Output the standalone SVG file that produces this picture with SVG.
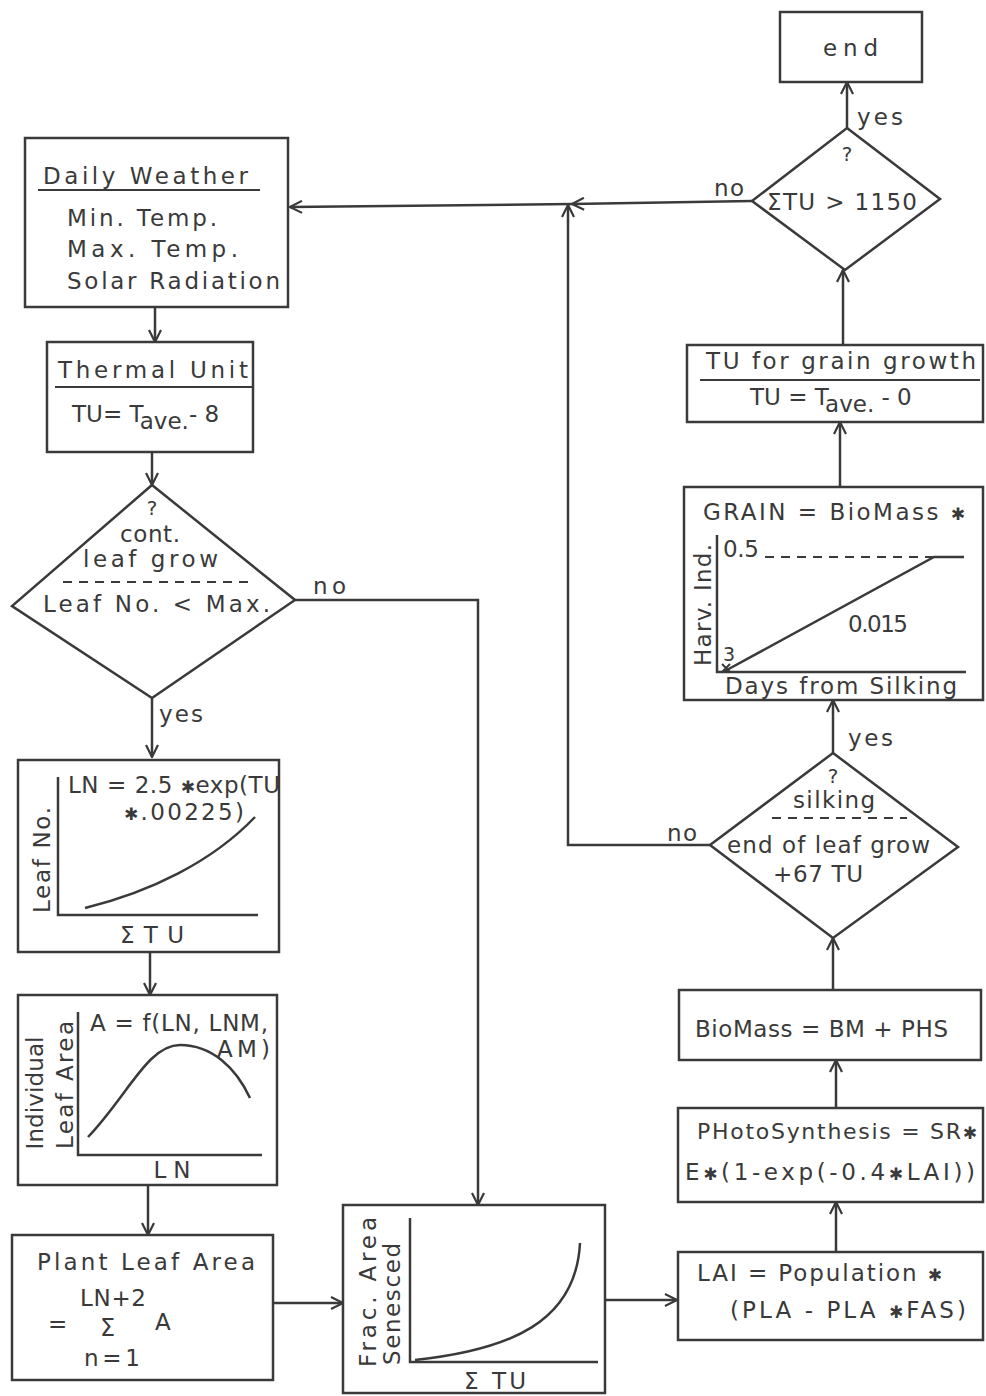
<svg xmlns="http://www.w3.org/2000/svg" width="986" height="1396" viewBox="0 0 986 1396">
<style>
  .box { fill: none; stroke: #3a3a3a; stroke-width: 2.5; }
  .ln { fill: none; stroke: #3a3a3a; stroke-width: 2.5; }
  .thin { fill: none; stroke: #3a3a3a; stroke-width: 2; }
  .dash { fill: none; stroke: #3a3a3a; stroke-width: 2; stroke-dasharray: 9 7; }
  .con { fill: none; stroke: #3a3a3a; stroke-width: 2.5; marker-end: url(#arr); }
  text { font-family: "DejaVu Sans", "Liberation Sans", sans-serif; font-size: 23px; fill: #3a3a3a; }
  .st { font-family: "DejaVu Sans", sans-serif; font-size: 17px; }
  .q { font-size: 20px; }
</style>
<defs>
  <marker id="arr" viewBox="0 0 14 14" refX="13" refY="7" markerWidth="14" markerHeight="14" markerUnits="userSpaceOnUse" orient="auto">
    <path d="M1,1 L13,7 L1,13" fill="none" stroke="#3a3a3a" stroke-width="2.2"/>
  </marker>
</defs>
<rect width="986" height="1396" fill="#ffffff"/>

<g id="connectors">
  <path class="con" d="M155,307 L155,342"/>
  <path class="con" d="M152,452 L152,485"/>
  <path class="con" d="M152,698 L152,757"/>
  <path class="con" d="M150,952 L150,995"/>
  <path class="con" d="M148,1185 L148,1235"/>
  <path class="con" d="M295,600 L478,600 L478,1205"/>
  <path class="con" d="M273,1303 L343,1303"/>
  <path class="con" d="M605,1300 L677,1300"/>
  <path class="con" d="M836,1252 L836,1202"/>
  <path class="con" d="M836,1108 L836,1060"/>
  <path class="con" d="M833,990 L833,938"/>
  <path class="con" d="M833,753 L833,700"/>
  <path class="con" d="M710,845 L568,845 L568,205"/>
  <path class="con" d="M840,487 L840,422"/>
  <path class="con" d="M843,345 L843,270"/>
  <path class="con" d="M847,128 L847,82"/>
  <path class="con" d="M752,201 L572,204"/>
  <path class="con" d="M572,204 L290,207"/>
  <text x="313" y="594" textLength="33" lengthAdjust="spacing">no</text>
  <text x="159" y="722" textLength="44" lengthAdjust="spacing">yes</text>
  <text x="667" y="841" textLength="30" lengthAdjust="spacing">no</text>
  <text x="848" y="746" textLength="45" lengthAdjust="spacing">yes</text>
  <text x="714" y="196" textLength="30" lengthAdjust="spacing">no</text>
  <text x="857" y="125" textLength="46" lengthAdjust="spacing">yes</text>
</g>

<g id="daily-weather">
  <rect class="box" x="25" y="138" width="263" height="169"/>
  <text x="43" y="184" textLength="205" lengthAdjust="spacing">Daily Weather</text>
  <line class="thin" x1="38" y1="190" x2="260" y2="190"/>
  <text x="67" y="226" textLength="150" lengthAdjust="spacing">Min. Temp.</text>
  <text x="67" y="257" textLength="171" lengthAdjust="spacing">Max. Temp.</text>
  <text x="67" y="289" textLength="213" lengthAdjust="spacing">Solar Radiation</text>
</g>

<g id="thermal-unit">
  <rect class="box" x="47" y="342" width="206" height="110"/>
  <text x="58" y="378" textLength="190" lengthAdjust="spacing">Thermal Unit</text>
  <line class="thin" x1="55" y1="387" x2="253" y2="387"/>
  <text x="72" y="422">TU= T<tspan dy="7">ave.</tspan><tspan dy="-7">- 8</tspan></text>
</g>

<g id="decision-leaf-grow">
  <path class="box" d="M152,485 L295,600 L152,698 L12,606 Z"/>
  <text class="q" x="152" y="515" text-anchor="middle">?</text>
  <text x="120" y="542" textLength="60" lengthAdjust="spacing">cont.</text>
  <text x="83" y="567" textLength="135" lengthAdjust="spacing">leaf grow</text>
  <line class="dash" x1="63" y1="582" x2="248" y2="582"/>
  <text x="43" y="612" textLength="227" lengthAdjust="spacing">Leaf No. &lt; Max.</text>
</g>

<g id="leaf-number">
  <rect class="box" x="18" y="760" width="261" height="192"/>
  <path class="ln" d="M58,777 L58,915 L258,915"/>
  <path class="ln" d="M85,908 C150,892 212,862 255,817"/>
  <text x="68" y="793" textLength="212" lengthAdjust="spacing">LN = 2.5 <tspan class="st">✱</tspan>exp(TU</text>
  <text x="124" y="820" textLength="120" lengthAdjust="spacing"><tspan class="st">✱</tspan>.00225)</text>
  <text x="0" y="0" transform="translate(50,860) rotate(-90)" text-anchor="middle" textLength="106" lengthAdjust="spacing">Leaf No.</text>
  <text x="152" y="943" text-anchor="middle" textLength="64" lengthAdjust="spacing">ΣTU</text>
</g>

<g id="individual-leaf-area">
  <rect class="box" x="18" y="995" width="259" height="190"/>
  <path class="ln" d="M78,1012 L78,1155 L262,1155"/>
  <path class="ln" d="M88,1137 C128,1095 148,1045 180,1045 C212,1045 236,1068 250,1098"/>
  <text x="90" y="1031" textLength="178" lengthAdjust="spacing">A = f(LN, LNM,</text>
  <text x="217" y="1057" textLength="53" lengthAdjust="spacing">AM)</text>
  <text x="0" y="0" transform="translate(43,1093) rotate(-90)" text-anchor="middle" textLength="113" lengthAdjust="spacing">Individual</text>
  <text x="0" y="0" transform="translate(73,1085) rotate(-90)" text-anchor="middle" textLength="128" lengthAdjust="spacing">Leaf Area</text>
  <text x="172" y="1178" text-anchor="middle" textLength="37" lengthAdjust="spacing">LN</text>
</g>

<g id="plant-leaf-area">
  <rect class="box" x="12" y="1235" width="261" height="145"/>
  <text x="37" y="1270" textLength="218" lengthAdjust="spacing">Plant Leaf Area</text>
  <text x="80" y="1306" textLength="66" lengthAdjust="spacing">LN+2</text>
  <text x="48" y="1332">=</text>
  <text x="100" y="1336" style="font-size:24px">Σ</text>
  <text x="155" y="1330">A</text>
  <text x="84" y="1366" textLength="56" lengthAdjust="spacing">n=1</text>
</g>

<g id="fraction-area-senesced">
  <rect class="box" x="343" y="1205" width="262" height="188"/>
  <path class="ln" d="M410,1218 L410,1362 L598,1362"/>
  <path class="ln" d="M415,1360 C510,1350 576,1322 580,1243"/>
  <text x="0" y="0" transform="translate(376,1292) rotate(-90)" text-anchor="middle" textLength="150" lengthAdjust="spacing">Frac. Area</text>
  <text x="0" y="0" transform="translate(400,1304) rotate(-90)" text-anchor="middle" textLength="122" lengthAdjust="spacing">Senesced</text>
  <text x="495" y="1389" text-anchor="middle" textLength="62" lengthAdjust="spacing">Σ TU</text>
</g>

<g id="lai">
  <rect class="box" x="678" y="1252" width="305" height="88"/>
  <text x="697" y="1281" textLength="245" lengthAdjust="spacing">LAI = Population <tspan class="st">✱</tspan></text>
  <text x="730" y="1318" textLength="236" lengthAdjust="spacing">(PLA - PLA <tspan class="st">✱</tspan>FAS)</text>
</g>

<g id="photosynthesis">
  <rect class="box" x="678" y="1108" width="305" height="94"/>
  <text x="697" y="1139" textLength="280" lengthAdjust="spacing" style="font-size:22px">PHotoSynthesis = SR<tspan class="st">✱</tspan></text>
  <text x="685" y="1180" textLength="290" lengthAdjust="spacing">E<tspan class="st">✱</tspan>(1-exp(-0.4<tspan class="st">✱</tspan>LAI))</text>
</g>

<g id="biomass">
  <rect class="box" x="679" y="990" width="302" height="70"/>
  <text x="695" y="1037" textLength="253" lengthAdjust="spacing">BioMass = BM + PHS</text>
</g>

<g id="decision-silking">
  <path class="box" d="M833,753 L958,847 L833,938 L710,845 Z"/>
  <text class="q" x="833" y="783" text-anchor="middle">?</text>
  <text x="793" y="808" textLength="82" lengthAdjust="spacing">silking</text>
  <line class="dash" x1="772" y1="818" x2="907" y2="818"/>
  <text x="727" y="853" textLength="203" lengthAdjust="spacing">end of leaf grow</text>
  <text x="773" y="882" textLength="90" lengthAdjust="spacing">+67 TU</text>
</g>

<g id="grain">
  <rect class="box" x="684" y="487" width="299" height="213"/>
  <text x="703" y="520" textLength="262" lengthAdjust="spacing">GRAIN = BioMass <tspan class="st">✱</tspan></text>
  <path class="ln" d="M717,535 L717,672 L966,672"/>
  <line class="dash" x1="765" y1="557" x2="934" y2="557"/>
  <path class="ln" d="M725,671 L934,557 L964,557"/>
  <text x="723" y="557" textLength="36" lengthAdjust="spacing">0.5</text>
  <text x="848" y="632" textLength="60" lengthAdjust="spacing">0.015</text>
  <text x="723" y="661" style="font-size:19px">3</text>
  <path class="thin" d="M722,664 L730,672 M730,664 L722,672"/>
  <text x="0" y="0" transform="translate(711,605) rotate(-90)" text-anchor="middle" textLength="122" lengthAdjust="spacing">Harv. Ind.</text>
  <text x="725" y="694" textLength="232" lengthAdjust="spacing">Days from Silking</text>
</g>

<g id="tu-grain-growth">
  <rect class="box" x="687" y="345" width="296" height="77"/>
  <text x="706" y="369" textLength="270" lengthAdjust="spacing">TU for grain growth</text>
  <line class="thin" x1="700" y1="380" x2="980" y2="380"/>
  <text x="750" y="405">TU = T<tspan dy="7">ave.</tspan><tspan dy="-7"> - 0</tspan></text>
</g>

<g id="decision-total-tu">
  <path class="box" d="M847,128 L940,199 L845,270 L752,201 Z"/>
  <text class="q" x="847" y="161" text-anchor="middle">?</text>
  <text x="767" y="210" textLength="150" lengthAdjust="spacing">ΣTU &gt; 1150</text>
</g>

<g id="end">
  <rect class="box" x="780" y="12" width="142" height="70"/>
  <text x="823" y="56" textLength="55" lengthAdjust="spacing">end</text>
</g>
</svg>
